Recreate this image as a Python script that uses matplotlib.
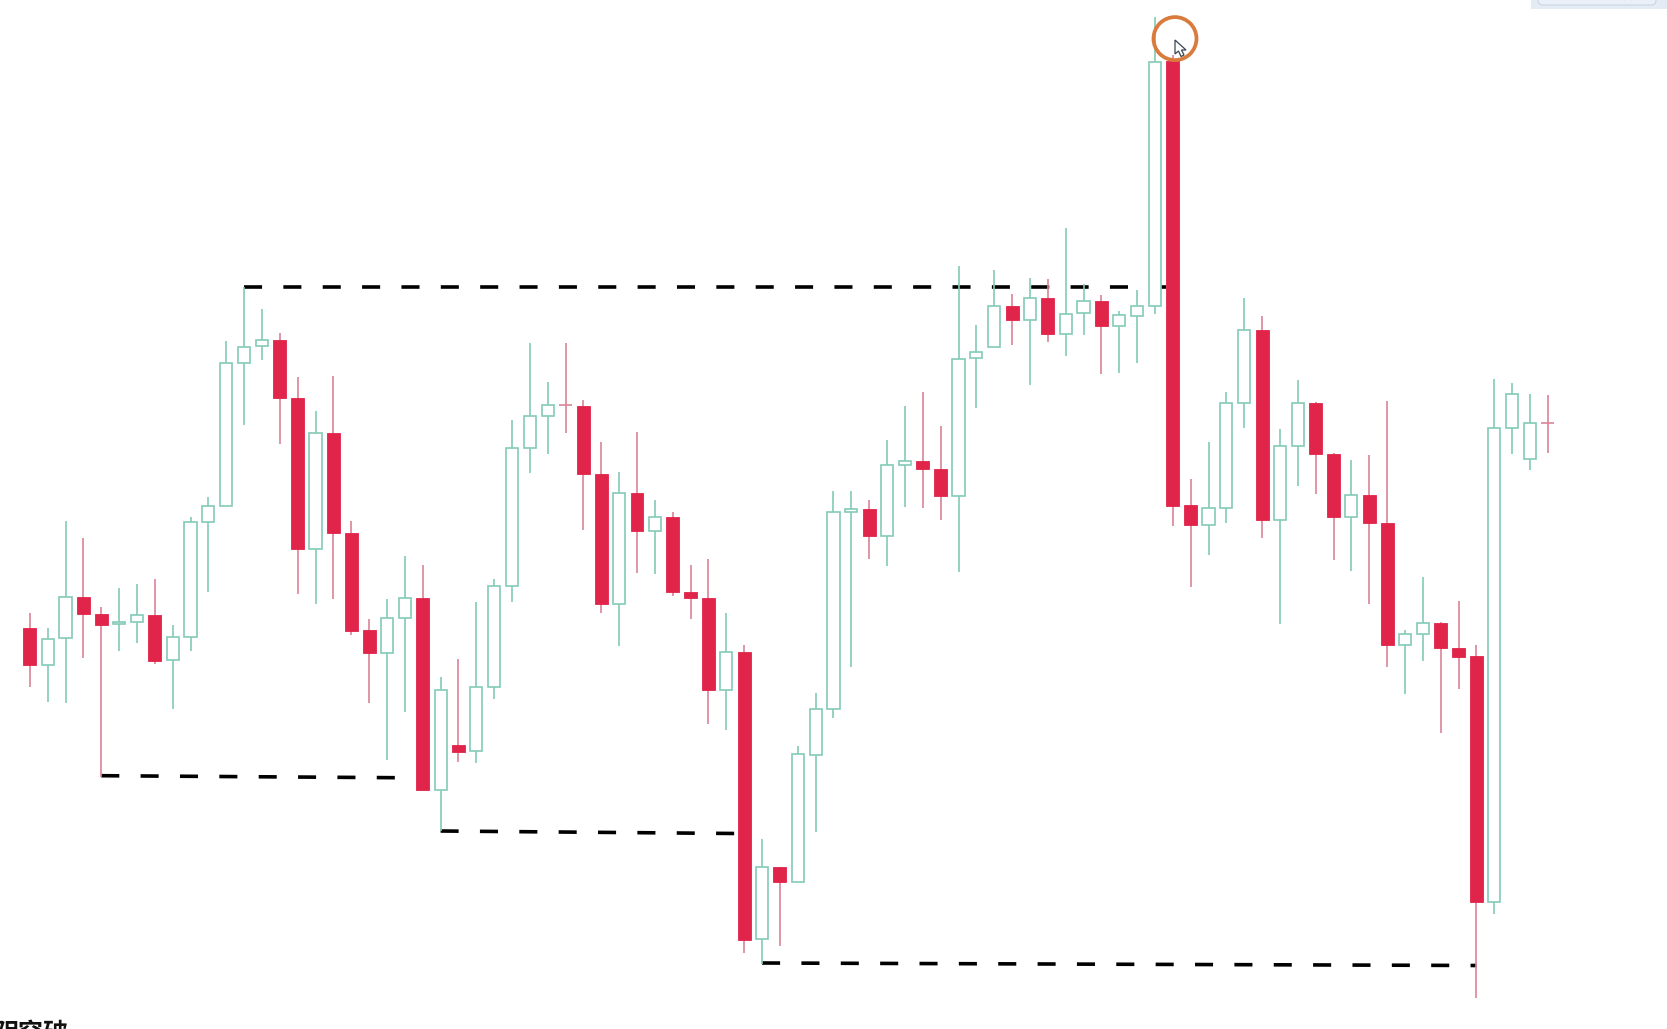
import matplotlib
matplotlib.use("Agg")
import matplotlib.pyplot as plt
from matplotlib.patches import Circle, FancyBboxPatch, Polygon, Rectangle

RED = "#E0244A"
RED_WICK = "#D98496"
GREEN = "#84CAB8"

# candle values (vertical scale runs downwards)
is_up = [0, 1, 1, 0, 0, 1, 1, 0, 1, 1, 1, 1, 1, 1, 0, 0, 1, 0, 0, 0, 1, 1, 0, 1, 0, 1, 1, 1, 1, 1,
         0, 0, 0, 1, 0, 1, 0, 0, 0, 1, 0, 1, 0, 1, 1, 1, 1, 0, 1, 1, 0, 0, 1, 1, 1, 0, 1, 0, 1, 1,
         0, 1, 1, 1, 0, 0, 1, 1, 1, 0, 1, 1, 0, 0, 1, 0, 0, 1, 1, 0, 0, 0, 1, 1, 1, 0]
body_top = [627.7, 638.7, 596.7, 596.7, 613.7, 621.7, 614.7, 614.7, 637.3, 522.3, 505.7, 363.3, 346.7, 340.3, 340,
            397.7, 432.7, 432.7, 533, 630.3, 618.3, 598, 598, 690.3, 745, 686.7, 586, 448.3, 416, 405,
            405, 406, 474.4, 492.5, 492.5, 516.5, 516.5, 592, 597.8, 652, 652, 867.3, 867.3, 754.4, 709.4,
            511.9, 509, 509.4, 465, 461.4, 461.4, 468.5, 358.6, 351.5, 306, 306, 297.7, 297.7, 313.6, 301,
            301, 315.4, 306.4, 62, 61, 505.4, 507.9, 402.5, 329.6, 329.6, 445.7, 402.5, 402.5, 454, 494.6,
            494.6, 522.5, 634, 623, 622.7, 648, 656.3, 428.4, 394.3, 423.2, 423.2]
body_bottom = [665, 665, 638.3, 613.7, 624.7, 624.3, 622, 660.7, 660, 637.3, 522.3, 505.7, 363.3, 346.3, 398.3,
               549, 549, 533.3, 630.7, 653, 653, 618, 790, 789.7, 751.7, 751.3, 686.7, 586, 448.3, 416,
               405, 474.4, 604, 604, 531.3, 531.3, 592, 598, 690.4, 690.4, 939.7, 939.3, 882, 882, 754.8,
               709.4, 512, 535.9, 535.9, 464.7, 468.5, 496.3, 496.3, 358.3, 346.6, 320, 320, 333.8, 333.8, 312.5,
               326.4, 326, 315.7, 306.4, 506, 525.4, 525, 507.9, 402.5, 520.4, 520.4, 446, 454, 516.8, 516.8,
               522.5, 645, 645, 634, 648.3, 657, 902.3, 902.3, 427.9, 458.6, 423.2]
highs = [613.3, 627.7, 521, 537.7, 607.3, 587.7, 584.3, 579.3, 625, 516.7, 497.3, 341, 287, 309, 332.7,
         377.3, 411, 376, 521, 619.3, 599, 556, 565.3, 676.7, 658.7, 602.3, 578.7, 420.3, 342.7, 382.3,
         342.6, 400, 442, 472.3, 432.3, 499.7, 512, 564.5, 558.6, 613.4, 644.5, 838.6, 867.3, 745.6, 692.5,
         490.8, 490.8, 499.7, 439.5, 406.2, 391.5, 426.4, 265.8, 325, 270, 294, 277.5, 278.5, 227.5, 284,
         295, 311.4, 290, 17, 55, 479, 442, 391.8, 298, 316, 428.6, 379.6, 401.8, 452.9, 460,
         455.4, 401, 630, 577.3, 621.7, 601, 645.3, 378.6, 383.2, 394, 395.4]
lows = [686.7, 702.3, 703.3, 658.3, 776.7, 651, 642.7, 664.3, 709.3, 651, 592.3, 505.7, 425, 360, 443.7,
        593.7, 604.3, 599.3, 635, 703.3, 760, 712.3, 790, 831, 762.3, 763.3, 699, 601.7, 473.3, 454.3,
        433, 530, 612.5, 646, 573.4, 574.2, 596, 618.8, 724, 730, 953, 963.7, 945.6, 882, 832,
        717.8, 666.8, 558.6, 565.8, 507.3, 508, 520.3, 571.7, 407.5, 346.4, 344.7, 384.7, 342, 356, 335,
        374, 372.5, 363.2, 313.6, 526, 587, 555.4, 522.5, 427.9, 538, 624, 485.7, 494, 560, 571,
        604, 666.7, 694.3, 660.7, 733.3, 689.3, 998.3, 914.3, 453.6, 470.4, 452.5]

# dashed levels: start candle, end candle, level at each end
dash_start = [12, 4, 23, 41]
dash_end = [63.62, 20.48, 39.54, 81]
dash_y_start = [287, 775.7, 831, 963]
dash_y_end = [287, 777.7, 833.5, 965.5]

caption = "阴突破"
widget_text = "下载 视频"

plt.rcParams["font.family"] = ["Noto Sans CJK SC", "DejaVu Sans"]

fig = plt.figure(figsize=(16.67, 10.29), dpi=100, facecolor="white")
ax = fig.add_axes([0, 0, 1, 1])
ax.set_xlim(-1.669, 91.67)
ax.set_ylim(1029, 0)
ax.set_axis_off()

for i in range(len(is_up)):
    wick_color = GREEN if is_up[i] else RED_WICK
    ax.vlines(i, highs[i], lows[i], color=wick_color, linewidth=1.2, zorder=2)
    height = body_bottom[i] - body_top[i]
    if height == 0:
        # doji, open and close on the same level
        ax.hlines(body_top[i], i - 0.36, i + 0.36, color=RED_WICK, linewidth=1.2, zorder=3)
    elif is_up[i]:
        ax.bar(i, height, bottom=body_top[i], width=0.68, facecolor="white",
               edgecolor=GREEN, linewidth=1.2, zorder=3)
    else:
        ax.bar(i, height, bottom=body_top[i], width=0.72, facecolor=RED,
               edgecolor=RED, linewidth=0.6, zorder=3)

for x0, x1, y0, y1 in zip(dash_start, dash_end, dash_y_start, dash_y_end):
    ax.plot([x0, x1], [y0, y1], color="black", linewidth=2.6,
            linestyle=(0, (5.0, 5.9)), dash_capstyle="butt", zorder=1.5)

# annotations on top, in picture pixels
ann = fig.add_axes([0, 0, 1, 1], facecolor="none")
ann.set_xlim(0, 1667)
ann.set_ylim(1029, 0)
ann.set_axis_off()

ann.add_patch(Circle((1175, 38.6), 21.5, fill=False, edgecolor="#D97B3C", linewidth=2.7))
ann.add_patch(Polygon(
    [(1175, 40), (1175, 54), (1178.5, 51), (1181, 56.5), (1184, 55), (1181.5, 50), (1186, 50)],
    closed=True, facecolor="white", edgecolor="#3C4650", linewidth=0.9,
))

ann.add_patch(Rectangle((1531, -2), 140, 10.5, facecolor="#E3EBF4", edgecolor="none"))
ann.add_patch(FancyBboxPatch((1538, -12), 118, 17, boxstyle="round,pad=0,rounding_size=5",
                             facecolor="#EAF0F7", edgecolor="#CBD6E2", linewidth=0.8))
ann.text(1600, 3, widget_text, fontsize=11, color="#9AA6B4", ha="center", va="bottom")

ann.text(-7, 1021, caption, fontsize=18, fontweight="bold", color="#111111",
         ha="left", va="top")

fig.savefig("out.png", dpi=100)
plt.close(fig)
